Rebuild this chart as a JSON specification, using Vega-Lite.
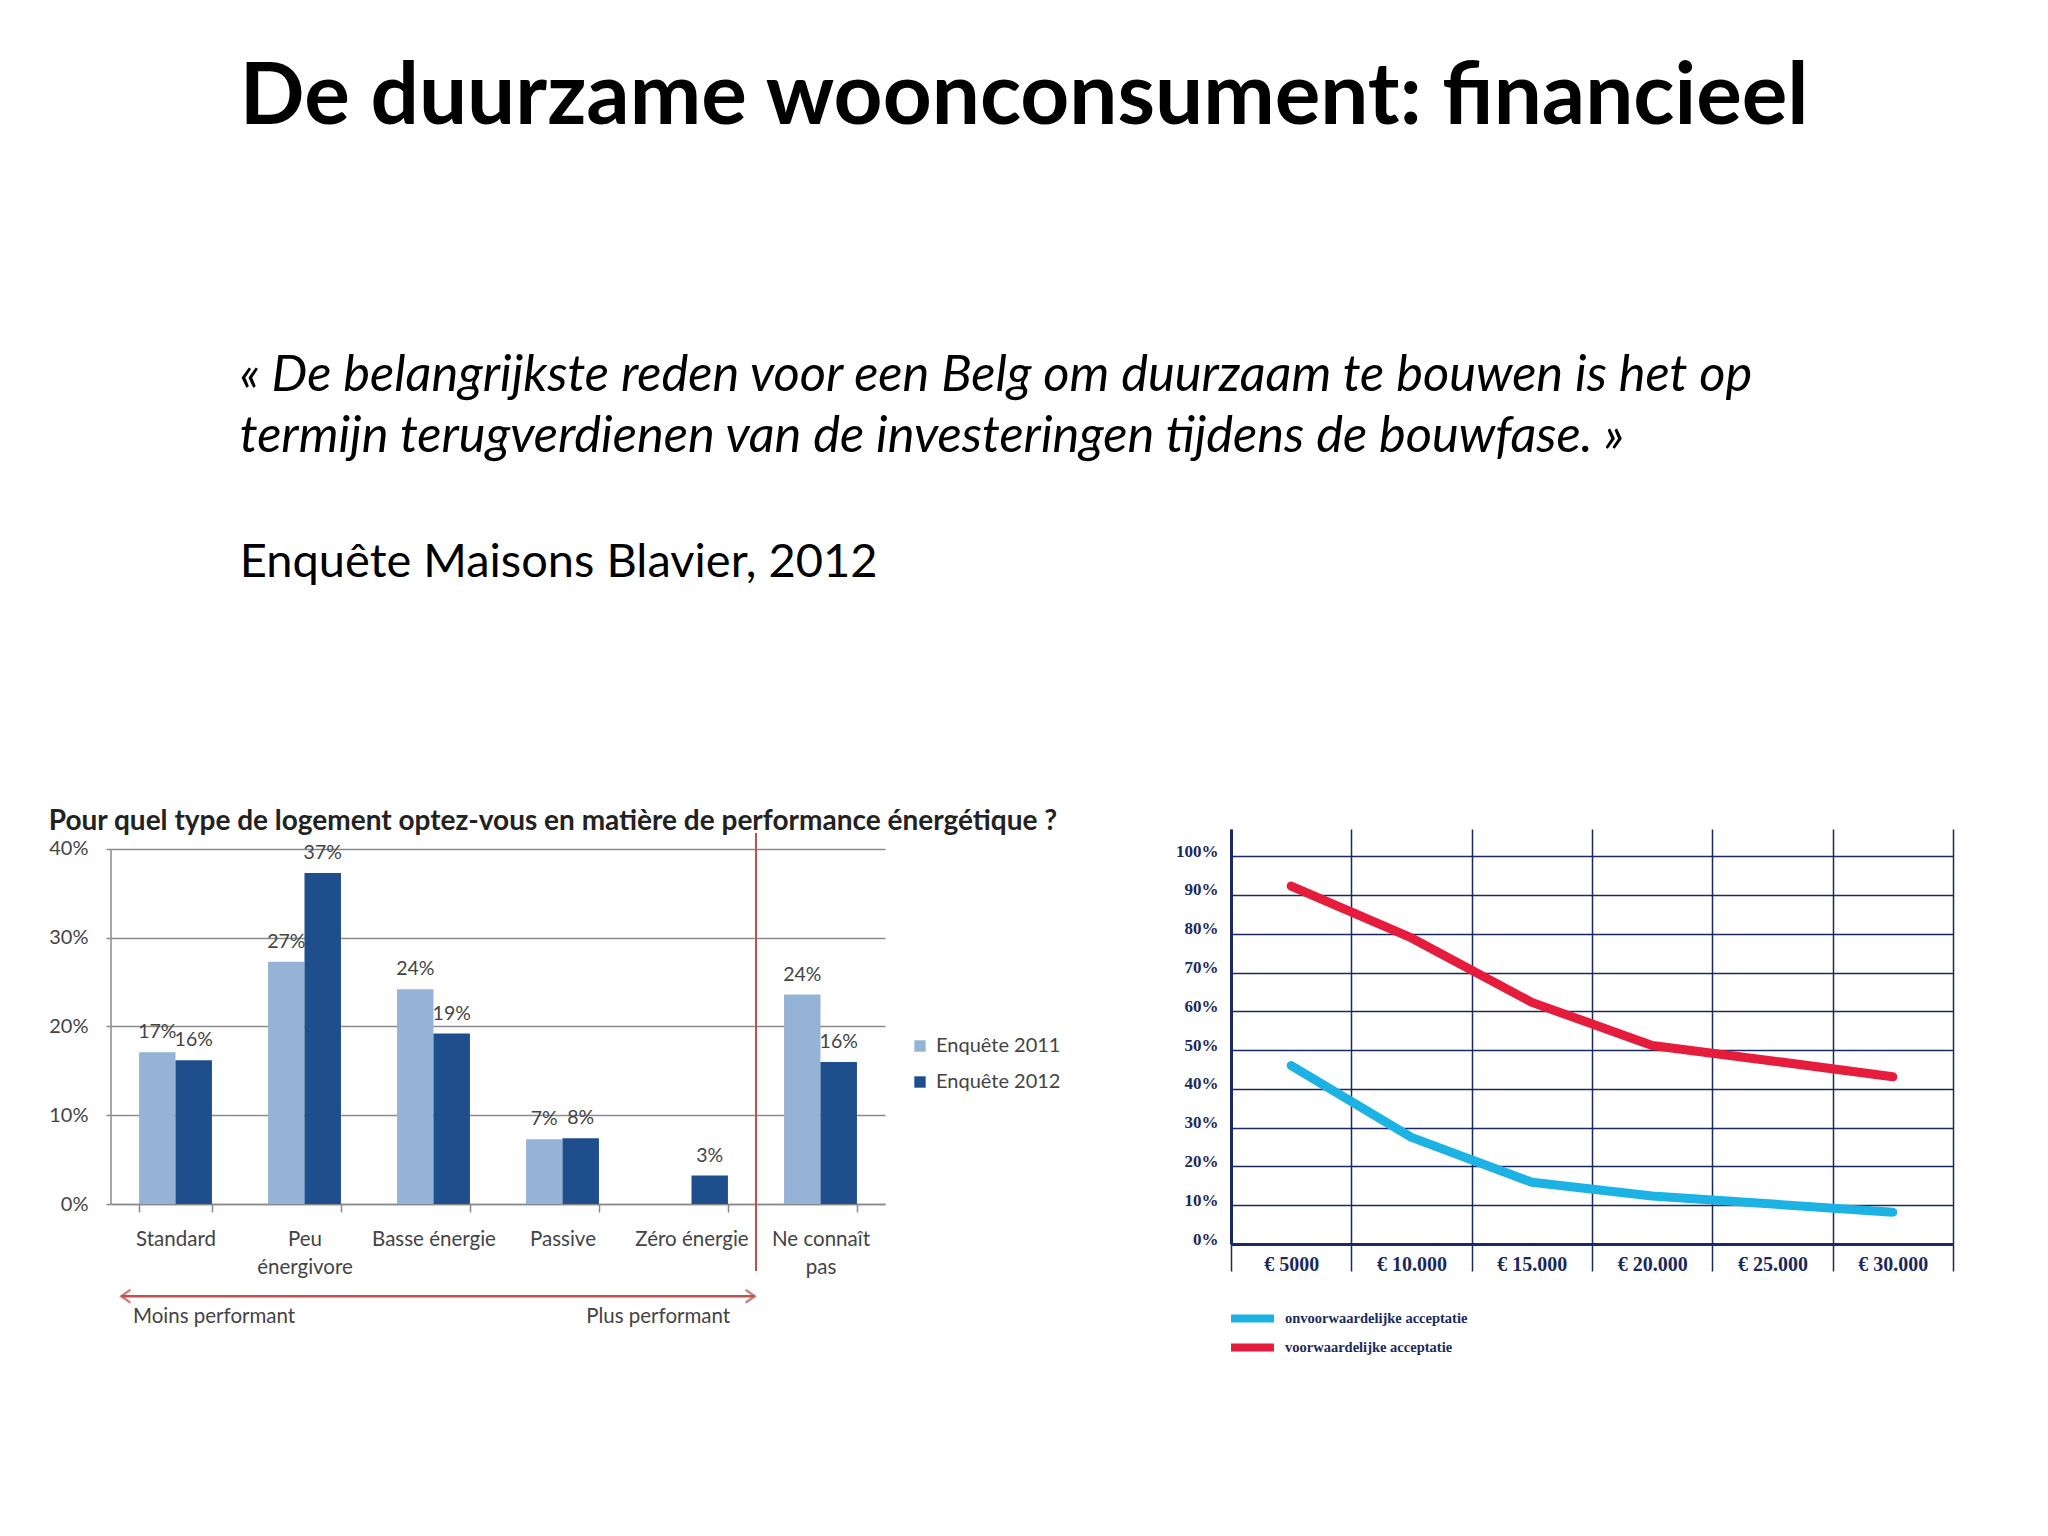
{
  "$schema": "https://vega.github.io/schema/vega-lite/v6.json",
  "background": "white",
  "padding": {"left": 48, "top": 56, "right": 10, "bottom": 10},
  "config": {"view": {"stroke": null}, "font": "Lato"},
  "title": {
    "text": "De duurzame woonconsument: financieel",
    "anchor": "start",
    "font": "Lato",
    "fontSize": 85.4,
    "fontWeight": "bold",
    "color": "#000000",
    "dx": 191,
    "offset": 209
  },
  "vconcat": [
    {
      "title": {
        "text": ["« De belangrijkste reden voor een Belg om duurzaam te bouwen is het op", "termijn terugverdienen van de investeringen tijdens de bouwfase. »"],
        "subtitle": "Enquête Maisons Blavier, 2012",
        "anchor": "start",
        "font": "Lato",
        "fontSize": 50.6,
        "fontStyle": "italic",
        "fontWeight": "normal",
        "lineHeight": 61,
        "color": "#000000",
        "subtitleFont": "Lato",
        "subtitleFontSize": 47,
        "subtitleColor": "#000000",
        "subtitlePadding": 77,
        "dx": 191,
        "offset": 222
      },
      "bounds": "flush",
      "spacing": 346,
      "resolve": {"scale": {"color": "independent", "shape": "independent"}, "legend": {"color": "independent"}},
      "hconcat": [
        {
          "width": 774,
          "height": 375,
          "title": {
            "text": "Pour quel type de logement optez-vous en matière de performance énergétique ?",
            "anchor": "start",
            "frame": "bounds",
            "font": "Lato",
            "fontSize": 28,
            "fontWeight": "bold",
            "color": "#222222",
            "offset": -7
          },
          "layer": [
            {
              "data": {"values": [
                {"cat": "Standard", "serie": "Enquête 2011", "v": 17.1, "lab": "17%"},
                {"cat": "Standard", "serie": "Enquête 2012", "v": 16.2, "lab": "16%"},
                {"cat": "Peu énergivore", "serie": "Enquête 2011", "v": 27.3, "lab": "27%"},
                {"cat": "Peu énergivore", "serie": "Enquête 2012", "v": 37.3, "lab": "37%"},
                {"cat": "Basse énergie", "serie": "Enquête 2011", "v": 24.2, "lab": "24%"},
                {"cat": "Basse énergie", "serie": "Enquête 2012", "v": 19.2, "lab": "19%"},
                {"cat": "Passive", "serie": "Enquête 2011", "v": 7.3, "lab": "7%"},
                {"cat": "Passive", "serie": "Enquête 2012", "v": 7.4, "lab": "8%"},
                {"cat": "Zéro énergie", "serie": "Enquête 2012", "v": 3.2, "lab": "3%"},
                {"cat": "Ne connaît pas", "serie": "Enquête 2011", "v": 23.6, "lab": "24%"},
                {"cat": "Ne connaît pas", "serie": "Enquête 2012", "v": 16.0, "lab": "16%"}
              ]},
              "encoding": {
                "x": {
                  "field": "cat", "type": "nominal",
                  "sort": ["Standard", "Peu énergivore", "Basse énergie", "Passive", "Zéro énergie", "Ne connaît pas"],
                  "scale": {"paddingInner": 0.435, "paddingOuter": 0.2175},
                  "axis": {
                    "title": null, "labelAngle": 0, "domainColor": "#8a8a8a", "domainWidth": 1.5,
                    "tickBand": "extent", "tickSize": 8, "tickColor": "#8a8a8a", "tickWidth": 1.5,
                    "labelFont": "Lato", "labelFontSize": 20.5, "labelColor": "#444444",
                    "labelPadding": 17, "labelLineHeight": 28,
                    "labelExpr": "datum.value == 'Peu énergivore' ? ['Peu', 'énergivore'] : datum.value == 'Ne connaît pas' ? ['Ne connaît', 'pas'] : datum.value"
                  }
                },
                "xOffset": {"field": "serie", "type": "nominal", "sort": ["Enquête 2011", "Enquête 2012"]},
                "y": {
                  "field": "v", "type": "quantitative",
                  "scale": {"domain": [0, 42.25], "nice": false},
                  "axis": {
                    "title": null, "values": [0, 10, 20, 30, 40], "labelExpr": "datum.value + '%'",
                    "gridColor": "#8a8a8a", "gridWidth": 1.5, "domain": false,
                    "tickColor": "#8a8a8a", "tickSize": 5, "tickWidth": 1.5, "labelFont": "Lato", "labelFontSize": 20,
                    "labelColor": "#444444", "labelPadding": 18
                  }
                }
              },
              "layer": [
                {
                  "mark": {"type": "bar"},
                  "encoding": {
                    "color": {
                      "field": "serie", "type": "nominal",
                      "scale": {"domain": ["Enquête 2011", "Enquête 2012"], "range": ["#95b3d7", "#1f4e8c"]},
                      "legend": {
                        "title": null, "orient": "none", "legendX": 799, "legendY": 207,
                        "symbolType": "square", "symbolSize": 130, "labelFont": "Lato",
                        "labelFontSize": 20, "labelColor": "#444444", "rowPadding": 16, "labelOffset": 6
                      }
                    }
                  }
                },
                {
                  "mark": {"type": "text", "baseline": "middle", "dy": -20, "font": "Lato", "fontSize": 19.5, "color": "#444444"},
                  "encoding": {"text": {"field": "lab"}}
                }
              ]
            },
            {
              "data": {"values": [{"x": 0, "y": 40, "y2": 0}]},
              "mark": {"type": "rule", "color": "#8a8a8a", "strokeWidth": 1.5},
              "encoding": {
                "x": {"field": "x", "type": "quantitative", "scale": {"domain": [0, 6], "nice": false, "zero": false}, "axis": null},
                "y": {"field": "y", "type": "quantitative", "scale": {"domain": [0, 42.25], "nice": false}, "axis": null},
                "y2": {"field": "y2"}
              }
            },
            {
              "data": {"values": [{"x": 5, "y": 41.8, "y2": -7.55}]},
              "mark": {"type": "rule", "color": "#c0504d", "strokeWidth": 2},
              "encoding": {
                "x": {"field": "x", "type": "quantitative", "scale": {"domain": [0, 6], "nice": false, "zero": false}, "axis": null},
                "y": {"field": "y", "type": "quantitative", "scale": {"domain": [0, 42.25], "nice": false}, "axis": null},
                "y2": {"field": "y2"}
              }
            },
            {
              "data": {"values": [{"x": 0.08, "x2": 4.99, "y": -10.4}]},
              "mark": {"type": "rule", "color": "#c0504d", "strokeWidth": 2.5},
              "encoding": {
                "x": {"field": "x", "type": "quantitative", "scale": {"domain": [0, 6], "nice": false, "zero": false}, "axis": null},
                "x2": {"field": "x2"},
                "y": {"field": "y", "type": "quantitative", "scale": {"domain": [0, 42.25], "nice": false}, "axis": null}
              }
            },
            {
              "data": {"values": [
                {"x": 0.08, "y": -10.4, "side": "left"},
                {"x": 4.99, "y": -10.4, "side": "right"}
              ]},
              "mark": {"type": "point", "filled": false, "stroke": "#c0504d", "strokeWidth": 2.5, "size": 170},
              "encoding": {
                "x": {"field": "x", "type": "quantitative", "scale": {"domain": [0, 6], "nice": false, "zero": false}, "axis": null},
                "y": {"field": "y", "type": "quantitative", "scale": {"domain": [0, 42.25], "nice": false}, "axis": null},
                "shape": {
                  "field": "side", "type": "nominal",
                  "scale": {"domain": ["left", "right"], "range": ["M 1.4 -1 L 0 0 L 1.4 1", "M -1.4 -1 L 0 0 L -1.4 1"]},
                  "legend": null
                }
              }
            },
            {
              "data": {"values": [
                {"x": 0.17, "y": -12.7, "t": "Moins performant", "al": "left"},
                {"x": 4.8, "y": -12.7, "t": "Plus performant", "al": "right"}
              ]},
              "mark": {"type": "text", "baseline": "middle", "font": "Lato", "fontSize": 20.5, "color": "#444444", "align": {"expr": "datum.al"}},
              "encoding": {
                "x": {"field": "x", "type": "quantitative", "scale": {"domain": [0, 6], "nice": false, "zero": false}, "axis": null},
                "y": {"field": "y", "type": "quantitative", "scale": {"domain": [0, 42.25], "nice": false}, "axis": null},
                "text": {"field": "t"}
              }
            }
          ],
          "resolve": {"scale": {"x": "independent", "y": "independent"}}
        },
        {
          "width": 722,
          "height": 415,
          "data": {"values": [
            {"kost": "€ 5000", "serie": "onvoorwaardelijke acceptatie", "pct": 46.0},
            {"kost": "€ 10.000", "serie": "onvoorwaardelijke acceptatie", "pct": 27.5},
            {"kost": "€ 15.000", "serie": "onvoorwaardelijke acceptatie", "pct": 15.9},
            {"kost": "€ 20.000", "serie": "onvoorwaardelijke acceptatie", "pct": 12.4},
            {"kost": "€ 25.000", "serie": "onvoorwaardelijke acceptatie", "pct": 10.3},
            {"kost": "€ 30.000", "serie": "onvoorwaardelijke acceptatie", "pct": 8.2},
            {"kost": "€ 5000", "serie": "voorwaardelijke acceptatie", "pct": 92.3},
            {"kost": "€ 10.000", "serie": "voorwaardelijke acceptatie", "pct": 78.9},
            {"kost": "€ 15.000", "serie": "voorwaardelijke acceptatie", "pct": 62.3},
            {"kost": "€ 20.000", "serie": "voorwaardelijke acceptatie", "pct": 51.2},
            {"kost": "€ 25.000", "serie": "voorwaardelijke acceptatie", "pct": 47.2},
            {"kost": "€ 30.000", "serie": "voorwaardelijke acceptatie", "pct": 43.1}
          ]},
          "mark": {"type": "line", "strokeWidth": 9, "strokeCap": "round", "strokeJoin": "round"},
          "encoding": {
            "x": {
              "field": "kost", "type": "nominal", "sort": null, "bandPosition": 0.5,
              "scale": {"type": "band", "paddingInner": 0, "paddingOuter": 0},
              "axis": {
                "title": null, "labelAngle": 0, "domainColor": "#1b2a5c", "domainWidth": 3,
                "grid": true, "gridColor": "#1b2a5c", "gridWidth": 1.5, "tickBand": "extent",
                "tickSize": 27, "tickColor": "#1b2a5c", "tickWidth": 1.5,
                "labelFont": "Liberation Serif", "labelFontWeight": "bold", "labelFontSize": 20,
                "labelColor": "#1b2a5c", "labelBaseline": "top", "labelPadding": -17
              }
            },
            "y": {
              "field": "pct", "type": "quantitative",
              "scale": {"domain": [0, 107], "nice": false},
              "axis": {
                "title": null, "values": [0, 10, 20, 30, 40, 50, 60, 70, 80, 90, 100],
                "labelExpr": "datum.value + '%'", "grid": true, "gridColor": "#1b2a5c", "gridWidth": 1.5,
                "domainColor": "#1b2a5c", "domainWidth": 3, "ticks": false,
                "labelFont": "Liberation Serif", "labelFontWeight": "bold", "labelFontSize": 17,
                "labelColor": "#1b2a5c", "labelBaseline": "alphabetic", "labelPadding": 13
              }
            },
            "color": {
              "field": "serie", "type": "nominal",
              "scale": {"domain": ["onvoorwaardelijke acceptatie", "voorwaardelijke acceptatie"], "range": ["#1cb2e4", "#e61c3c"]},
              "legend": {
                "title": null, "orient": "none", "legendX": 10, "legendY": 478,
                "symbolType": "M -3 0 L 3 0", "symbolSize": 205, "symbolStrokeWidth": 8,
                "labelFont": "Liberation Serif", "labelFontWeight": "bold", "labelFontSize": 14.5,
                "labelColor": "#1b2a5c", "rowPadding": -4, "labelOffset": 21, "labelLimit": 400
              }
            }
          }
        }
      ]
    }
  ]
}
